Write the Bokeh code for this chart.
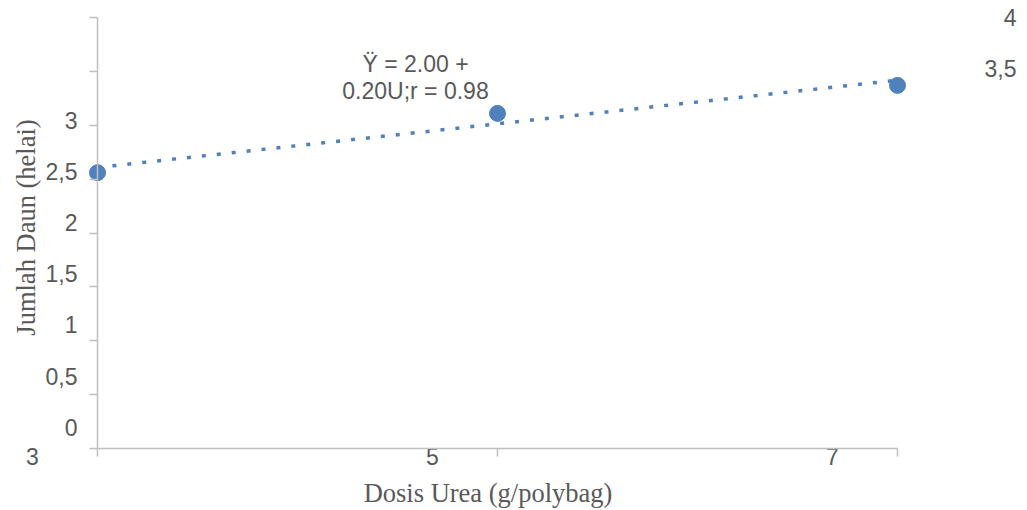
import numpy as np
from bokeh.plotting import figure
from bokeh.models import Range1d, FixedTicker
from bokeh.core.properties import value
from bokeh.embed import file_html
from bokeh.resources import INLINE

# ---------------- data ----------------
dosis = [3, 5, 7]
jumlah_daun = [2.56, 3.11, 3.37]
x_ticks = [3, 5, 7]
x_tick_labels = ["3", "5", "7"]
y_ticks = [0, 0.5, 1, 1.5, 2, 2.5, 3, 3.5, 4]
y_tick_labels = ["0", "0,5", "1", "1,5", "2", "2,5", "3", "3,5", "4"]
equation_lines = ["Ÿ = 2.00 +", "0.20U;r = 0.98"]
x_title = "Dosis Urea (g/polybag)"
y_title = "Jumlah Daun (helai)"

# ---------------- layout ----------------
W, H = 1027, 510
X_LEFT_PX, X_RIGHT_PX = 97, 897      # pixel of x=3 and x=7
Y_BOT_PX, Y_TOP_PX = 448, 17         # pixel of y=0 and y=4
xmin, xmax = min(x_ticks), max(x_ticks)
ymin, ymax = min(y_ticks), max(y_ticks)
sx = (X_RIGHT_PX - X_LEFT_PX) / (xmax - xmin)
sy = (Y_BOT_PX - Y_TOP_PX) / (ymax - ymin)


def px2x(px):
    return xmin + (np.asarray(px, dtype=float) - X_LEFT_PX) / sx


def px2y(py):
    return ymin + (Y_BOT_PX - np.asarray(py, dtype=float)) / sy


BLUE = "#4F81BD"
GREY = "#BFBFBF"
TXT = "#595959"

p = figure(
    width=W, height=H,
    x_range=Range1d(float(px2x(0)), float(px2x(W))),
    y_range=Range1d(float(px2y(H)), float(px2y(0))),
    output_backend="svg", toolbar_location=None,
    min_border=0, min_border_left=0, min_border_right=0,
    min_border_top=0, min_border_bottom=0,
)
p.outline_line_color = None
p.background_fill_color = "white"
p.border_fill_color = "white"
p.xgrid.visible = False
p.ygrid.visible = False

for ax, ticks, loc, bnds in ((p.xaxis, x_ticks, ymin, (xmin, xmax)),
                             (p.yaxis, y_ticks, xmin, (ymin, ymax))):
    ax.fixed_location = loc
    ax.bounds = bnds
    ax.ticker = FixedTicker(ticks=ticks)
    ax.axis_line_color = GREY
    ax.axis_line_width = 1.5
    ax.major_tick_line_color = GREY
    ax.major_tick_line_width = 1.5
    ax.major_tick_out = 8
    ax.major_tick_in = 0
    ax.minor_tick_line_color = None
    ax.major_label_text_alpha = 0
    ax.major_label_text_font_size = "1px"

# trend line from a least-squares fit of the data
coef = np.polyfit(dosis, jumlah_daun, 1)
tx = np.array([xmin, xmax], dtype=float)
p.line(tx, np.polyval(coef, tx), line_color=BLUE, line_width=3.5,
       line_dash="4 11", line_cap="butt")

# data points
p.scatter(dosis, jumlah_daun, size=16, fill_color=BLUE, line_color=BLUE)

font_sans = value("Liberation Sans")
font_serif = value("Liberation Serif")

# y tick labels (as drawn in the reference: compressed scale, wrapped top two)
yt = np.array(y_ticks, dtype=float)
lab_step = 102.35
lab_y_px = 426.7 - (yt - ymin) / 0.5 * (lab_step / 2)
lab_x_px = np.where(yt <= 3, 77, 1016)
p.text(x=px2x(lab_x_px), y=px2y(lab_y_px), text=y_tick_labels,
       text_align="right", text_baseline="middle",
       text_font=font_sans, text_font_size="23px", text_color=TXT)

# x tick labels (shifted left as in the reference)
xt = np.array(x_ticks, dtype=float)
xt_px = X_LEFT_PX + (xt - xmin) * sx - 65
p.text(x=px2x(xt_px), y=px2y(np.full(len(xt), 456)), text=x_tick_labels,
       text_align="center", text_baseline="middle",
       text_font=font_sans, text_font_size="23px", text_color=TXT)

# equation
p.text(x=px2x([415, 415]), y=px2y([63, 90]), text=equation_lines,
       text_align="center", text_baseline="middle",
       text_font=font_sans, text_font_size="23px", text_color=TXT)

# axis titles
p.text(x=px2x([487.5]), y=px2y([492]), text=[x_title],
       text_align="center", text_baseline="middle",
       text_font=font_serif, text_font_size="26.5px", text_color=TXT)
p.text(x=px2x([25]), y=px2y([227]), text=[y_title], angle=np.pi / 2,
       text_align="center", text_baseline="middle",
       text_font=font_serif, text_font_size="26.5px", text_color=TXT)

open("out.html", "w").write(file_html(p, INLINE))
